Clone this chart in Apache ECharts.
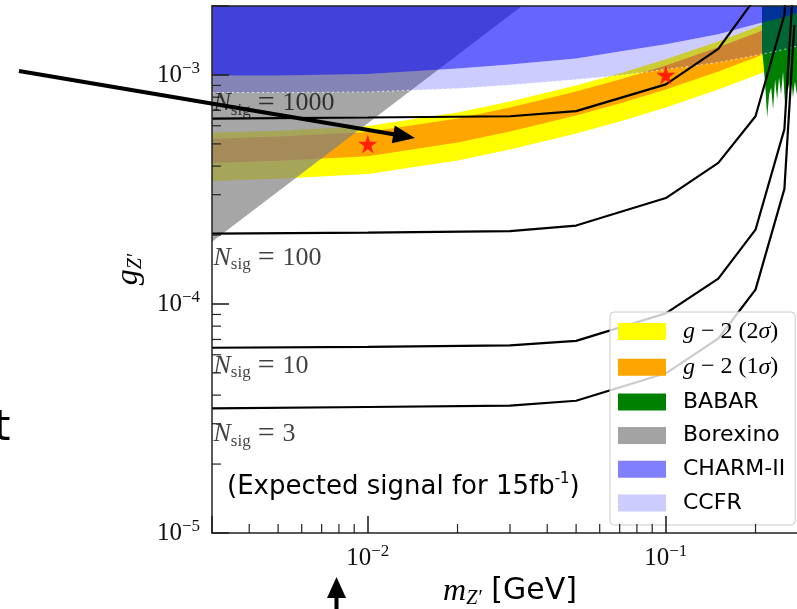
<!DOCTYPE html>
<html>
<head>
<meta charset="utf-8">
<script src="https://cdn.jsdelivr.net/npm/echarts@6/dist/echarts.min.js"></script>
<style>
html, body { margin: 0; padding: 0; background: #fff; }
#chart { width: 797px; height: 609px; }
</style>
</head>
<body>
<div id="chart"></div>
<script>
var chart = echarts.init(document.getElementById('chart'));

// axis ranges
var mMin = 0.003, mMax = 0.3;
var gMin = 1e-5, gMax = 2e-3;

// N_sig contours (m in GeV, g)
var massN    = [0.003, 0.01, 0.03, 0.05, 0.1, 0.15, 0.2, 0.25, 0.27];
var nsig1000 = [6.45e-4, 6.52e-4, 6.6e-4, 6.95e-4, 9.1e-4, 1.30e-3, 2.17e-3, 5.8e-3, 3.0e-2];
var nsig100  = [2.03e-4, 2.05e-4, 2.08e-4, 2.2e-4, 2.9e-4, 4.13e-4, 6.6e-4, 1.83e-3, 9.5e-3];
var nsig10   = [6.44e-5, 6.5e-5, 6.6e-5, 6.9e-5, 9.1e-5, 1.29e-4, 2.11e-4, 5.8e-4, 3.0e-3];
var nsig3    = [3.5e-5, 3.55e-5, 3.6e-5, 3.78e-5, 4.98e-5, 7.07e-5, 1.155e-4, 3.18e-4, 1.65e-3];

// label anchors for the contours
var nLabelText = ['1000', '100', '10', '3'];
var nLabelG    = [7.5e-4, 1.59e-4, 5.36e-5, 2.69e-5];

// g-2 bands, CHARM-II and CCFR edges
var bandMass = [0.003, 0.005, 0.01, 0.02, 0.03, 0.05, 0.07, 0.1, 0.15, 0.2, 0.25, 0.3];
var g2s2High = [5.59e-4, 5.71e-4, 5.98e-4, 6.86e-4, 7.66e-4, 9.0e-4, 1.014e-3, 1.17e-3, 1.40e-3, 1.61e-3, 1.82e-3, 2.0e-3];
var g2s2Low  = [3.44e-4, 3.52e-4, 3.69e-4, 4.23e-4, 4.72e-4, 5.55e-4, 6.26e-4, 7.21e-4, 8.64e-4, 9.95e-4, 1.12e-3, 1.24e-3];
var g2s1High = [5.26e-4, 5.38e-4, 5.63e-4, 6.46e-4, 7.21e-4, 8.47e-4, 9.55e-4, 1.10e-3, 1.32e-3, 1.52e-3, 1.71e-3, 1.90e-3];
var g2s1Low  = [4.13e-4, 4.22e-4, 4.42e-4, 5.07e-4, 5.66e-4, 6.65e-4, 7.51e-4, 8.64e-4, 1.036e-3, 1.193e-3, 1.345e-3, 1.488e-3];
var charmLow = [9.95e-4, 9.95e-4, 1.01e-3, 1.068e-3, 1.112e-3, 1.181e-3, 1.267e-3, 1.36e-3, 1.504e-3, 1.663e-3, 1.785e-3, 1.934e-3];
var ccfrLow  = [8.38e-4, 8.38e-4, 8.43e-4, 8.73e-4, 9.04e-4, 9.56e-4, 9.95e-4, 1.057e-3, 1.134e-3, 1.217e-3, 1.293e-3, 1.373e-3];

// Borexino edge
var borexMass = [0.003, 0.0329];
var borexLow  = [1.87e-4, 2.0e-3];

// BABAR lower edge (jagged)
var babarMass = [0.2102, 0.2123, 0.2155, 0.2188, 0.2222, 0.2256, 0.2291, 0.2327, 0.2363, 0.2399, 0.2436, 0.2474,
                 0.2512, 0.2551, 0.2590, 0.2630, 0.2671, 0.2712, 0.2754, 0.285, 0.3];
var babarLow  = [1.293e-3, 1.146e-3, 9.09e-4, 6.52e-4, 8.22e-4, 8.82e-4, 7.06e-4, 9.56e-4, 7.81e-4, 9.75e-4, 8.22e-4, 1.036e-3,
                 7.43e-4, 9.56e-4, 8.64e-4, 1.005e-3, 7.97e-4, 9.37e-4, 8.22e-4, 8.6e-4, 9.0e-4];

// benchmark stars
var starMass = [0.01, 0.1];
var starG    = [5.0e-4, 1.0e-3];

// minor ticks
var xMinorTicks = [0.004, 0.005, 0.006, 0.007, 0.008, 0.009, 0.02, 0.03, 0.04, 0.05, 0.06, 0.07, 0.08, 0.09, 0.2, 0.3];
var yMinorTicks = [2e-5, 3e-5, 4e-5, 5e-5, 6e-5, 7e-5, 8e-5, 9e-5, 2e-4, 3e-4, 4e-4, 5e-4, 6e-4, 7e-4, 8e-4, 9e-4];

function pairs(xs, ys) {
  return xs.map(function (x, i) { return [x, ys[i]]; });
}
function flat(xs, v) {
  return xs.map(function (x) { return [x, v]; });
}

function areaSeries(name, upper, lower, fill, z, legendColor, edge) {
  return {
    name: name,
    type: 'custom',
    clip: true,
    silent: true,
    z: z,
    itemStyle: { color: legendColor },
    data: [upper[0]],
    renderItem: function (params, api) {
      var pts = upper.concat(lower.slice().reverse()).map(function (p) { return api.coord(p); });
      var kids = [{ type: 'polygon', shape: { points: pts }, style: { fill: fill } }];
      if (edge) {
        kids.push({
          type: 'polyline',
          shape: { points: lower.map(function (p) { return api.coord(p); }) },
          style: { stroke: 'rgba(255,255,255,0.7)', lineWidth: 1, lineDash: [2, 3], fill: null }
        });
      }
      return { type: 'group', children: kids };
    }
  };
}

function lineSeries(ys) {
  return {
    type: 'line',
    data: pairs(massN, ys),
    symbol: 'none',
    silent: true,
    z: 5,
    lineStyle: { color: '#000', width: 2.2 }
  };
}

var powRich = {
  b: { fontFamily: 'Liberation Serif', fontSize: 25, lineHeight: 30, color: '#111' },
  p: { fontFamily: 'Liberation Serif', fontSize: 17, lineHeight: 15, verticalAlign: 'top', color: '#111' }
};
function powLabel(v) {
  var e = Math.log10(v);
  if (Math.abs(e - Math.round(e)) > 1e-6) return '';
  return '{b|10}{p|\u2212' + Math.abs(Math.round(e)) + '}';
}

var starPath = 'path://M50,0 L61,35 L98,35 L68,57 L79,91 L50,70 L21,91 L32,57 L2,35 L39,35 Z';

var option = {
  animation: false,
  backgroundColor: '#fff',
  grid: { left: 212, top: 6, width: 596, height: 527, outerBoundsMode: 'none', containLabel: false },
  legend: {
    orient: 'vertical',
    left: 610,
    top: 312,
    z: 8,
    selectedMode: false,
    icon: 'rect',
    itemWidth: 48,
    itemHeight: 17,
    itemGap: 11.7,
    padding: [7.5, 10, 11, 8],
    backgroundColor: 'rgba(255,255,255,0.8)',
    borderColor: '#cccccc',
    borderWidth: 1,
    borderRadius: 4,
    data: ['g \u2212 2 (2\u03c3)', 'g \u2212 2 (1\u03c3)', 'BABAR', 'Borexino', 'CHARM-II', 'CCFR'],
    formatter: function (name) {
      if (name.charAt(0) === 'g') {
        var k = name.indexOf('(1') >= 0 ? '1' : '2';
        return '{i|g}{r| \u2212 2 (' + k + '}{i|\u03c3}{r|)}';
      }
      return name;
    },
    textStyle: {
      fontFamily: 'DejaVu Sans',
      fontSize: 22,
      lineHeight: 22,
      color: '#000',
      padding: [0, 0, 0, 12],
      rich: {
        i: { fontFamily: 'Liberation Serif', fontStyle: 'italic', fontSize: 24, lineHeight: 22 },
        r: { fontFamily: 'Liberation Serif', fontSize: 24, lineHeight: 22 }
      }
    }
  },
  xAxis: [{
    type: 'log',
    logBase: 10,
    min: mMin,
    max: mMax,
    position: 'bottom',
    z: 10,
    axisLine: { show: true, onZero: false, lineStyle: { color: '#222', width: 1.5 } },
    axisTick: { show: true, inside: true, length: 17, lineStyle: { color: '#222', width: 1.6 } },
    axisLabel: { margin: 10, formatter: powLabel, rich: powRich },
    splitLine: { show: false },
    name: '{m|m}{s|Z\u2032}{t| [GeV]}',
    nameLocation: 'middle',
    nameGap: 38,
    nameTextStyle: {
      color: '#000',
      rich: {
        m: { fontFamily: 'Liberation Serif', fontStyle: 'italic', fontSize: 32, lineHeight: 34 },
        s: { fontFamily: 'Liberation Serif', fontStyle: 'italic', fontSize: 20, lineHeight: 24, verticalAlign: 'bottom' },
        t: { fontFamily: 'DejaVu Sans', fontSize: 30, lineHeight: 34 }
      }
    }
  }, {
    type: 'log',
    logBase: 10,
    min: mMin,
    max: mMax,
    position: 'top',
    z: 10,
    axisLine: { show: true, onZero: false, lineStyle: { color: '#222', width: 1.5 } },
    axisTick: { show: false },
    axisLabel: { show: false },
    splitLine: { show: false }
  }],
  yAxis: {
    type: 'log',
    logBase: 10,
    min: gMin,
    max: gMax,
    z: 10,
    axisLine: { show: true, onZero: false, lineStyle: { color: '#222', width: 1.5 } },
    axisTick: { show: true, inside: true, length: 17, lineStyle: { color: '#222', width: 1.6 } },
    axisLabel: { margin: 12, formatter: powLabel, rich: powRich },
    splitLine: { show: false },
    name: '{g|g}{s|Z\u2032}',
    nameLocation: 'middle',
    nameRotate: 90,
    nameGap: 58,
    nameTextStyle: {
      color: '#000',
      rich: {
        g: { fontFamily: 'Liberation Serif', fontStyle: 'italic', fontSize: 32, lineHeight: 34 },
        s: { fontFamily: 'Liberation Serif', fontStyle: 'italic', fontSize: 20, lineHeight: 24, verticalAlign: 'bottom' }
      }
    }
  },
  series: [
    areaSeries('g \u2212 2 (2\u03c3)', pairs(bandMass, g2s2High), pairs(bandMass, g2s2Low), '#ffff00', 1, '#ffff00'),
    areaSeries('g \u2212 2 (1\u03c3)', pairs(bandMass, g2s1High), pairs(bandMass, g2s1Low), '#ffa500', 1.1, '#ffa500'),
    areaSeries('Borexino', flat(borexMass, gMax), pairs(borexMass, borexLow), 'rgba(128,128,128,0.7)', 1.2, '#a3a3a3'),
    areaSeries('BABAR', [[babarMass[0], gMax], [babarMass[babarMass.length - 1], gMax]], pairs(babarMass, babarLow), '#008000', 1.3, '#008000'),
    areaSeries('CHARM-II', flat(bandMass, gMax), pairs(bandMass, charmLow), 'rgba(0,0,255,0.6)', 1.4, '#8080ff'),
    areaSeries('CCFR', pairs(bandMass, charmLow), pairs(bandMass, ccfrLow), 'rgba(0,0,255,0.2)', 1.5, '#ccccff', true),
    lineSeries(nsig1000),
    lineSeries(nsig100),
    lineSeries(nsig10),
    lineSeries(nsig3),
    {
      type: 'scatter',
      data: pairs(starMass, starG),
      symbol: starPath,
      symbolSize: 19,
      silent: true,
      z: 6,
      itemStyle: { color: '#ff0000' }
    },
    {
      type: 'scatter',
      data: nLabelG.map(function (g, i) { return [mMin, g, nLabelText[i]]; }),
      symbolSize: 1,
      silent: true,
      z: 7,
      itemStyle: { color: 'rgba(0,0,0,0)' },
      label: {
        show: true,
        position: 'right',
        distance: 1,
        color: '#111',
        formatter: function (p) { return '{n|N}{s|sig}{e|=}{v|' + p.value[2] + '}'; },
        rich: {
          n: { fontFamily: 'Liberation Serif', fontStyle: 'italic', fontSize: 26, lineHeight: 30 },
          s: { fontFamily: 'Liberation Serif', fontSize: 17, lineHeight: 22, verticalAlign: 'bottom' },
          e: { fontFamily: 'Liberation Serif', fontSize: 30, lineHeight: 30, padding: [0, 8, 0, 7] },
          v: { fontFamily: 'Liberation Serif', fontSize: 26, lineHeight: 30 }
        }
      }
    },
    {
      type: 'custom',
      silent: true,
      z: 11,
      data: xMinorTicks.map(function (m) { return [m, gMin]; }),
      renderItem: function (params, api) {
        var p = api.coord([api.value(0), gMin]);
        return { type: 'line', shape: { x1: p[0], y1: p[1], x2: p[0], y2: p[1] - 9 }, style: { stroke: '#222', lineWidth: 1.2 } };
      }
    },
    {
      type: 'custom',
      silent: true,
      z: 11,
      data: yMinorTicks.map(function (g) { return [mMin, g]; }),
      renderItem: function (params, api) {
        var p = api.coord([mMin, api.value(1)]);
        return { type: 'line', shape: { x1: p[0], y1: p[1], x2: p[0] + 9, y2: p[1] }, style: { stroke: '#222', lineWidth: 1.2 } };
      }
    }
  ],
  graphic: [
    {
      type: 'text', x: 227, y: 487, z: 50,
      style: {
        text: '(Expected signal for 15fb{p|-1})',
        fontFamily: 'DejaVu Sans', fontSize: 26, lineHeight: 30, fill: '#000',
        textVerticalAlign: 'middle', verticalAlign: 'middle',
        rich: { p: { fontFamily: 'DejaVu Sans', fontSize: 15, lineHeight: 16, verticalAlign: 'top' } }
      }
    },
    {
      type: 'text', x: -6, y: 429, z: 50,
      style: { text: 't', fontFamily: 'DejaVu Sans', fontSize: 42, fill: '#000', textVerticalAlign: 'middle', verticalAlign: 'middle' }
    },
    { type: 'line', z: 100, shape: { x1: 19, y1: 71, x2: 395, y2: 134.5 }, style: { stroke: '#000', lineWidth: 4 } },
    { type: 'polygon', z: 100, shape: { points: [[415, 138], [394.8, 125.4], [391.8, 143.2]] }, style: { fill: '#000' } },
    { type: 'line', z: 100, shape: { x1: 336.5, y1: 596, x2: 336.5, y2: 612 }, style: { stroke: '#000', lineWidth: 4 } },
    { type: 'polygon', z: 100, shape: { points: [[336.5, 577], [327, 598], [346, 598]] }, style: { fill: '#000' } }
  ]
};

chart.setOption(option);
</script>
</body>
</html>
